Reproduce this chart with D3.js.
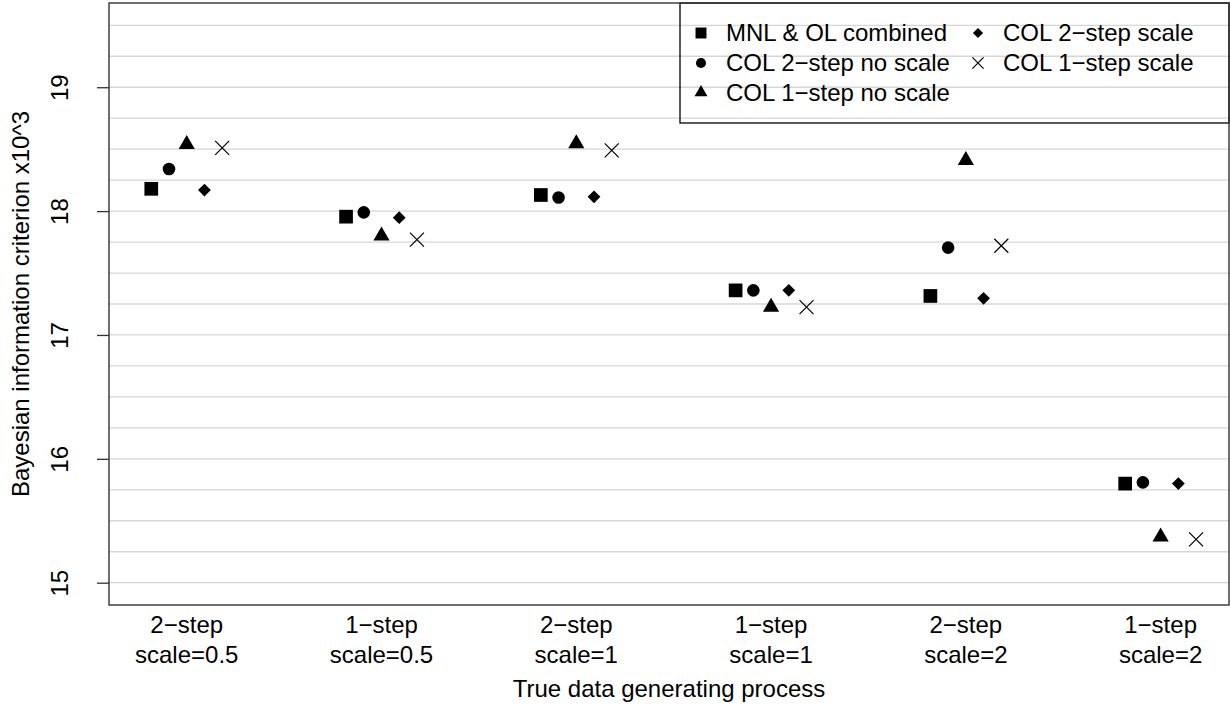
<!DOCTYPE html>
<html>
  <head>
    <meta charset="utf-8">
    <script src="https://cdn.jsdelivr.net/npm/d3@7"></script>
    <style>
      body { margin: 0; background: #fff; }
      text { font-family: "Liberation Sans", Arial, Helvetica, sans-serif; fill: #000; }
    </style>
  </head>
  <body>
    <svg width="1231" height="708"></svg>
    <script>

    // categories on the x axis (two text lines each)
    var categories = [
      ["2\u2212step", "scale=0.5"],
      ["1\u2212step", "scale=0.5"],
      ["2\u2212step", "scale=1"],
      ["1\u2212step", "scale=1"],
      ["2\u2212step", "scale=2"],
      ["1\u2212step", "scale=2"]
    ];

    var seriesNames = ["MNL & OL combined", "COL 2\u2212step no scale", "COL 1\u2212step no scale",
                       "COL 2\u2212step scale", "COL 1\u2212step scale"];
    var seriesShapes = ["square", "circle", "triangle", "diamond", "cross"];

    // BIC x10^3, one value per category
    var mnlOl      = [18.18, 17.955, 18.13, 17.36, 17.315, 15.80];
    var col2NoSc   = [18.34, 17.99, 18.11, 17.36, 17.705, 15.81];
    var col1NoSc   = [18.54, 17.80, 18.545, 17.225, 18.41, 15.37];
    var col2Sc     = [18.17, 17.947, 18.115, 17.36, 17.296, 15.80];
    var col1Sc     = [18.51, 17.77, 18.49, 17.225, 17.72, 15.35];
    var seriesValues = [mnlOl, col2NoSc, col1NoSc, col2Sc, col1Sc];

    var yTicks = [15, 16, 17, 18, 19];
    var gridLevels = d3.range(15, 19.51, 0.25);

    var svg = d3.select("svg");
    var pLeft = 109, pRight = 1229, pTop = 3, pBottom = 605;

    var x = d3.scaleLinear().domain([0.601, 6.351]).range([pLeft, pRight]);
    var y = d3.scaleLinear().domain([14.82, 19.68]).range([pBottom, pTop]);
    var offset = 0.091; // spread of the five models within a category

    // marker paths centred on 0,0 (s = scale factor)
    function shapePath(kind, s) {
      var p = d3.path();
      if (kind == "square") {
        var h = 6.85 * s;
        p.rect(-h, -h, 2 * h, 2 * h);
      } else if (kind == "circle") {
        p.arc(0, 0, 6.3 * s, 0, 2 * Math.PI);
      } else if (kind == "triangle") {
        p.moveTo(0, -9.33 * s); p.lineTo(8.1 * s, 4.67 * s); p.lineTo(-8.1 * s, 4.67 * s); p.closePath();
      } else if (kind == "diamond") {
        p.moveTo(0, -6.4 * s); p.lineTo(6.4 * s, 0); p.lineTo(0, 6.4 * s); p.lineTo(-6.4 * s, 0); p.closePath();
      } else {
        var c = 7 * s;
        p.moveTo(-c, -c); p.lineTo(c, c); p.moveTo(-c, c); p.lineTo(c, -c);
      }
      return p.toString();
    }

    function drawShape(g, kind, s) {
      g.append("path")
        .attr("d", shapePath(kind, s))
        .attr("fill", kind == "cross" ? "none" : "#000")
        .attr("stroke", kind == "cross" ? "#000" : "none")
        .attr("stroke-width", 1.2);
    }

    // grid lines
    svg.append("g").selectAll("line")
      .data(gridLevels)
      .enter().append("line")
      .attr("x1", pLeft).attr("x2", pRight)
      .attr("y1", function(d) { return y(d); })
      .attr("y2", function(d) { return y(d); })
      .attr("stroke", "#d6d6d6")
      .attr("stroke-width", 1.3);

    // y axis
    var yAxis = svg.append("g")
      .attr("transform", "translate(" + pLeft + ",0)")
      .call(d3.axisLeft(y).tickValues(yTicks).tickSize(12).tickFormat(d3.format("d")));
    yAxis.select(".domain").remove();
    yAxis.selectAll(".tick line").attr("stroke", "#333").attr("stroke-width", 1.3);
    yAxis.selectAll(".tick text")
      .attr("x", null).attr("dy", null)
      .attr("text-anchor", "middle")
      .attr("font-size", 24)
      .attr("fill", "#000")
      .attr("transform", "translate(-41,0) rotate(-90)");

    // x category labels
    var xl = svg.append("g").selectAll("text")
      .data(categories)
      .enter().append("text")
      .attr("text-anchor", "middle")
      .attr("font-size", 24)
      .attr("x", function(d, i) { return x(i + 1); })
      .attr("y", 633);
    xl.append("tspan").text(function(d) { return d[0]; });
    xl.append("tspan")
      .attr("x", function(d, i) { return x(i + 1); })
      .attr("dy", 30)
      .text(function(d) { return d[1]; });

    // points
    seriesValues.forEach(function(vals, k) {
      svg.append("g").selectAll("g")
        .data(vals)
        .enter().append("g")
        .attr("transform", function(d, i) {
          return "translate(" + x(i + 1 + (k - 2) * offset) + "," + y(d) + ")";
        })
        .each(function() { drawShape(d3.select(this), seriesShapes[k], 1); });
    });

    // legend (two columns, filled by column)
    var legend = svg.append("g");
    legend.append("rect")
      .attr("x", 680).attr("y", pTop)
      .attr("width", pRight - 680).attr("height", 120)
      .attr("fill", "none").attr("stroke", "#000").attr("stroke-width", 1.3);
    var legCols = [701, 978], legRows = [33, 63, 92.5];
    seriesNames.forEach(function(name, k) {
      var col = k < 3 ? 0 : 1, row = k < 3 ? k : k - 3;
      var g = legend.append("g")
        .attr("transform", "translate(" + legCols[col] + "," + legRows[row] + ")");
      drawShape(g, seriesShapes[k], 0.8);
      g.append("text")
        .attr("x", 25).attr("y", 8.2)
        .attr("font-size", 24)
        .text(name);
    });

    // plot box
    svg.append("rect")
      .attr("x", pLeft).attr("y", pTop)
      .attr("width", pRight - pLeft).attr("height", pBottom - pTop)
      .attr("fill", "none").attr("stroke", "#333").attr("stroke-width", 1.4);

    // axis titles
    svg.append("text")
      .attr("x", (pLeft + pRight) / 2).attr("y", 697)
      .attr("text-anchor", "middle").attr("font-size", 24)
      .text("True data generating process");
    svg.append("text")
      .attr("transform", "translate(29," + (pTop + pBottom) / 2 + ") rotate(-90)")
      .attr("text-anchor", "middle").attr("font-size", 24)
      .text("Bayesian information criterion x10^3");

    </script>
  </body>
</html>
